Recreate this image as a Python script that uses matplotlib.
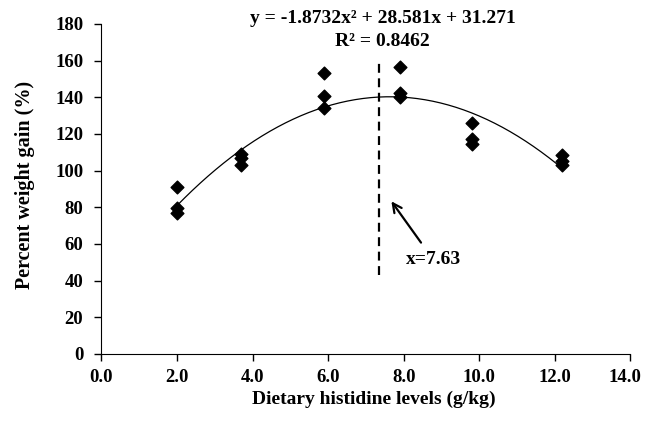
import numpy as np
import matplotlib.pyplot as plt
import matplotlib.transforms as mtransforms

plt.rcParams['font.family'] = ['Liberation Serif', 'DejaVu Serif']
plt.rcParams['font.weight'] = 'bold'

# observed weight gain, three replicates per level
levels = [2.0, 2.0, 2.0, 3.7, 3.7, 3.7, 5.9, 5.9, 5.9,
          7.9, 7.9, 7.9, 9.8, 9.8, 9.8, 12.2, 12.2, 12.2]
gain = [91, 79.5, 77, 109, 107, 103, 153, 140.5, 134,
        156.5, 142.5, 140, 126, 117.5, 114.5, 108.5, 105.5, 103]

# quadratic fit reported on the chart
coef = [-1.8732, 28.581, 31.271]
fit_x = [2.0, 12.2]
optimum_label = "x=7.63"
optimum_line_x = 7.35

FS = 14

fig = plt.figure(figsize=(6.46, 4.28), dpi=100)
ax = fig.add_axes([0.157, 0.173, 0.819, 0.771])

xs = np.linspace(fit_x[0], fit_x[1], 200)
ax.plot(xs, np.polyval(coef, xs), color='black', linewidth=0.9)
ax.scatter(levels, gain, marker='D', s=42, color='black', zorder=3)

ax.plot([optimum_line_x, optimum_line_x], [43, 158.5], color='black',
        linestyle=(0, (4, 2.5)), linewidth=1.6)
ax.annotate("", xy=(7.63, 84.5), xytext=(8.5, 59.5),
            arrowprops=dict(arrowstyle='->', color='black', lw=1.6,
                            mutation_scale=16))
ax.text(8.78, 51.3, optimum_label, fontsize=FS, fontweight='bold',
        ha='center', va='center')

ax.text(7.44, 183, "y = -1.8732x² + 28.581x + 31.271",
        fontsize=FS, fontweight='bold', ha='center', va='center', clip_on=False)
ax.text(7.44, 170.5, "R² = 0.8462", fontsize=FS, fontweight='bold',
        ha='center', va='center', clip_on=False)

ax.set_xlim(0, 14)
ax.set_ylim(0, 180)
ax.set_xticks(np.arange(0, 14.1, 2))
ax.set_xticklabels([f"{v:.1f}" for v in np.arange(0, 14.1, 2)])
ax.set_yticks(np.arange(0, 181, 20))
ax.tick_params(labelsize=13.5, length=5, width=1, direction='out')
ax.tick_params(axis='y', pad=8)
ax.tick_params(axis='x', pad=6)
for lbl in ax.get_xticklabels() + ax.get_yticklabels():
    lbl.set_fontweight('bold')
# last x label sits against the right edge, nudge it in
last = ax.get_xticklabels()[-1]
last.set_transform(last.get_transform() +
                   mtransforms.ScaledTranslation(-4 / 72, 0, fig.dpi_scale_trans))
ax.spines['top'].set_visible(False)
ax.spines['right'].set_visible(False)

ax.set_xlabel("Dietary histidine levels (g/kg)", fontsize=FS, fontweight='bold')
ax.set_ylabel("Percent weight gain (%)", fontsize=14.5, fontweight='bold')
ax.xaxis.set_label_coords(0.515, -0.112)
ax.yaxis.set_label_coords(-0.125, 0.512)

fig.savefig("out.png", dpi=100)
